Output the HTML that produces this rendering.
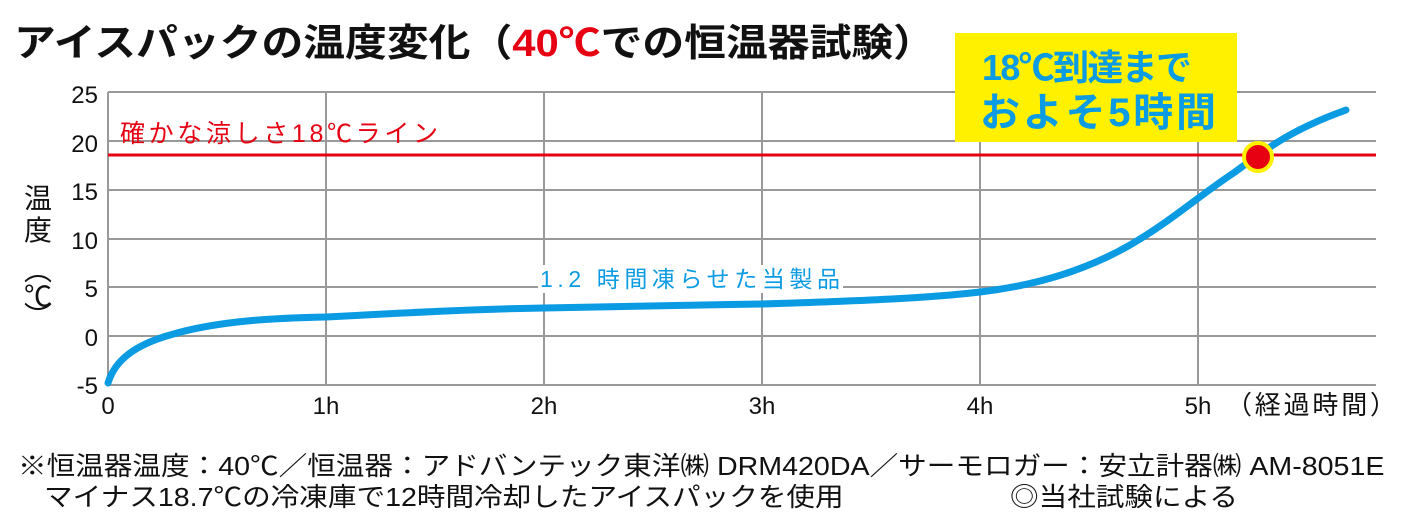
<!DOCTYPE html>
<html><head><meta charset="utf-8"><style>
body{margin:0;background:#fff;width:1409px;height:522px;overflow:hidden;position:relative;font-family:"Liberation Sans","Noto Sans CJK JP",sans-serif;}
.t{position:absolute;white-space:nowrap;transform-origin:0 0;}
</style></head><body>
<svg width="1409" height="522" style="position:absolute;left:0;top:0">
<g stroke="#999" stroke-width="2">
<line x1="108" y1="92" x2="1376" y2="92"/><line x1="108" y1="141" x2="1376" y2="141"/>
<line x1="108" y1="190" x2="1376" y2="190"/><line x1="108" y1="239" x2="1376" y2="239"/>
<line x1="108" y1="287" x2="1376" y2="287"/><line x1="108" y1="336" x2="1376" y2="336"/>
<line x1="108" y1="385" x2="1376" y2="385"/>
<line x1="108" y1="92" x2="108" y2="385"/><line x1="326" y1="92" x2="326" y2="385"/>
<line x1="544" y1="92" x2="544" y2="385"/><line x1="762" y1="92" x2="762" y2="385"/>
<line x1="980" y1="92" x2="980" y2="385"/><line x1="1198" y1="92" x2="1198" y2="385"/>
</g>
<text x="120" y="142" font-size="25" fill="#e60012" textLength="318" font-family="Liberation Sans,Noto Sans CJK JP,sans-serif">確かな涼しさ18℃ライン</text>
<line x1="108" y1="155" x2="1376" y2="155" stroke="#e60012" stroke-width="3"/>
<path d="M108,383 C115,360 135,345 170,335 C220,320 280,318 326,317 C420,312 480,309 544,308 C650,306 700,305 762,304 C860,301 930,298 980,292 C1040,285 1090,268 1130,245 C1170,222 1200,195 1235,172 C1265,150 1290,130 1346,110" fill="none" stroke="#0a9be3" stroke-width="7" stroke-linecap="round"/>
<rect x="538" y="265" width="305" height="28" fill="#fff"/>
<text x="540" y="287" font-size="23" fill="#0a9be3" textLength="300" font-family="Liberation Sans,Noto Sans CJK JP,sans-serif">1.2 時間凍らせた当製品</text>
<rect x="955" y="33" width="282" height="109" fill="#fff100"/>
<text x="982" y="80" font-size="36" font-weight="bold" fill="#0a9be3" textLength="210" font-family="Liberation Sans,Noto Sans CJK JP,sans-serif">18℃到達まで</text>
<text x="980" y="126" font-size="40" font-weight="bold" fill="#0a9be3" textLength="236" font-family="Liberation Sans,Noto Sans CJK JP,sans-serif">およそ5時間</text>
<circle cx="1258" cy="157" r="14" fill="#e60012" stroke="#fff100" stroke-width="4"/>
<g font-size="24" fill="#111" text-anchor="end" font-family="Liberation Sans,sans-serif">
<text x="98" y="103">25</text><text x="98" y="152">20</text><text x="98" y="200">15</text>
<text x="98" y="249">10</text><text x="98" y="297">5</text><text x="98" y="346">0</text><text x="98" y="394">-5</text>
</g>
<g font-size="24" fill="#111" text-anchor="middle" font-family="Liberation Sans,sans-serif">
<text x="108" y="414">0</text><text x="326" y="414">1h</text><text x="544" y="414">2h</text>
<text x="762" y="414">3h</text><text x="980" y="414">4h</text><text x="1198" y="414">5h</text>
</g>
<text x="1226" y="414" font-size="26" fill="#111" textLength="170" font-family="Liberation Sans,Noto Sans CJK JP,sans-serif">（経過時間）</text>
<g font-size="28" fill="#111" text-anchor="middle" font-family="Noto Sans CJK JP,sans-serif">
<text x="38" y="208">温</text><text x="38" y="240">度</text>
<text x="38" y="280">︵</text><text x="38" y="306">℃</text><text x="38" y="326">︶</text>
</g>
</svg>
<div class="t" style="left:14px;top:12px;font-size:38px;font-weight:bold;color:#111;transform:scaleX(1.1)">アイスパックの温度変化（<span style="color:#e60012">40℃</span>での恒温器試験）</div>
<div class="t" style="left:18px;top:446px;font-size:26px;color:#111;transform:scaleX(1.1)">※恒温器温度：40℃／恒温器：アドバンテック東洋㈱ DRM420DA／サーモロガー：安立計器㈱ AM-8051E</div>
<div class="t" style="left:44px;top:477px;font-size:26px;color:#111;transform:scaleX(1.1)">マイナス18.7℃の冷凍庫で12時間冷却したアイスパックを使用</div>
<div class="t" style="left:1010px;top:477px;font-size:26px;color:#111;transform:scaleX(1.1)">◎当社試験による</div>
</body></html>
